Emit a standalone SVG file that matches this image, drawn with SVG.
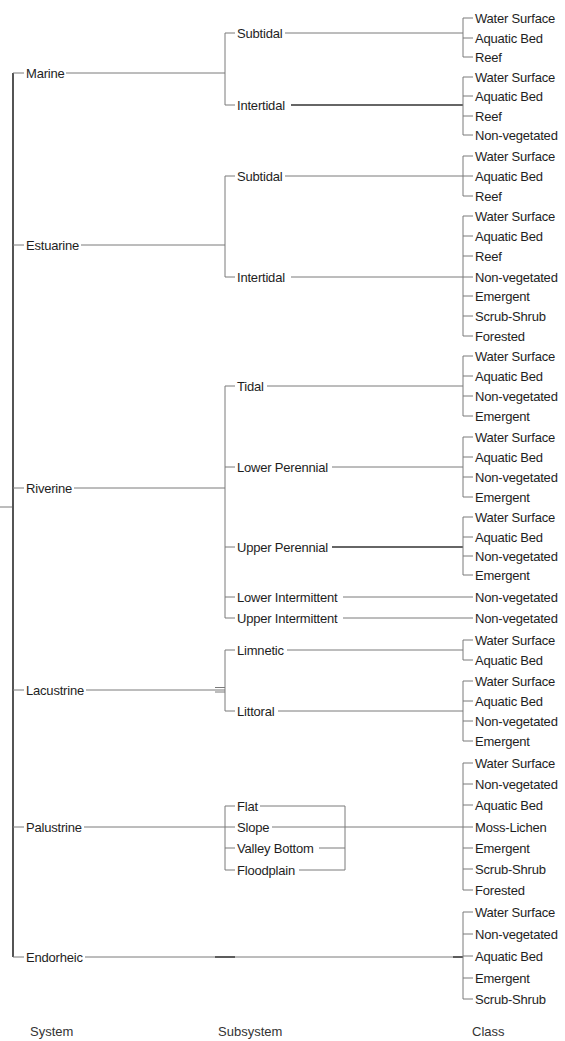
<svg xmlns="http://www.w3.org/2000/svg" width="565" height="1041" viewBox="0 0 565 1041">
<style>
text{font-family:"Liberation Sans",Arial,sans-serif;font-size:13px;fill:#1e1e1e;letter-spacing:-0.2px}
.ft{font-size:13px;fill:#333;letter-spacing:0}
.c line,.c polyline{stroke:#7a7a7a;stroke-width:1;fill:none}
.c .trunk{stroke:#2a2a2a;stroke-width:1.6}
.c .dk{stroke:#333;stroke-width:1.4}
</style>
<rect width="565" height="1041" fill="#fff"/>
<g class="c" id="connectors">
<line x1="0" y1="507" x2="12" y2="507"/>
<line class="trunk" x1="13" y1="73" x2="13" y2="957"/>
<polyline points="13,73 24,73"/><polyline points="13,245 24,245"/><polyline points="13,488 24,488"/>
<polyline points="13,690 24,690"/><polyline points="13,827 24,827"/><polyline points="13,957 24,957"/>
<line x1="66" y1="73" x2="225" y2="73"/>
<line x1="81" y1="245" x2="225" y2="245"/>
<line x1="74" y1="488" x2="225" y2="488"/>
<line x1="86" y1="690" x2="225" y2="690"/>
<line x1="215" y1="687.5" x2="225" y2="687.5"/><line x1="215" y1="692" x2="225" y2="692"/>
<line x1="84" y1="827" x2="225" y2="827"/>
<line x1="85" y1="957" x2="463" y2="957"/>
<line class="dk" x1="215" y1="957" x2="235" y2="957"/><line class="dk" x1="453" y1="957" x2="463" y2="957"/>
<polyline points="235,33 225,33 225,105 235,105"/>
<polyline points="235,176 225,176 225,277 235,277"/>
<polyline points="235,386 225,386 225,618 235,618"/>
<line x1="225" y1="467" x2="235" y2="467"/><line x1="225" y1="547" x2="235" y2="547"/><line x1="225" y1="597" x2="235" y2="597"/>
<polyline points="235,650 225,650 225,711 235,711"/>
<polyline points="235,806 225,806 225,870 235,870"/>
<line x1="225" y1="827" x2="235" y2="827"/><line x1="225" y1="848" x2="235" y2="848"/>
<line x1="285" y1="33" x2="463" y2="33"/>
<line class="dk" x1="291" y1="105" x2="463" y2="105"/>
<line x1="285" y1="176" x2="463" y2="176"/>
<line x1="291" y1="277" x2="463" y2="277"/>
<line x1="267" y1="386" x2="463" y2="386"/>
<line x1="332" y1="467" x2="463" y2="467"/>
<line class="dk" x1="332" y1="547" x2="463" y2="547"/>
<line x1="343" y1="597" x2="473" y2="597"/>
<line x1="343" y1="618" x2="473" y2="618"/>
<line x1="287" y1="650" x2="463" y2="650"/>
<line x1="278" y1="711" x2="463" y2="711"/>
<line x1="260" y1="806" x2="345" y2="806"/>
<line x1="272" y1="827" x2="463" y2="827"/>
<line x1="319" y1="848" x2="345" y2="848"/>
<line x1="299" y1="870" x2="345" y2="870"/>
<line x1="345" y1="806" x2="345" y2="870"/>
<polyline points="473,18 463,18 463,57 473,57"/><line x1="463" y1="38" x2="473" y2="38"/>
<polyline points="473,77 463,77 463,135 473,135"/><line x1="463" y1="96" x2="473" y2="96"/><line x1="463" y1="116" x2="473" y2="116"/>
<polyline points="473,156 463,156 463,196 473,196"/><line x1="463" y1="176" x2="473" y2="176"/>
<polyline points="473,216 463,216 463,336 473,336"/><line x1="463" y1="236" x2="473" y2="236"/><line x1="463" y1="256" x2="473" y2="256"/><line x1="463" y1="277" x2="473" y2="277"/><line x1="463" y1="296" x2="473" y2="296"/><line x1="463" y1="316" x2="473" y2="316"/>
<polyline points="473,356 463,356 463,416 473,416"/><line x1="463" y1="376" x2="473" y2="376"/><line x1="463" y1="396" x2="473" y2="396"/>
<polyline points="473,437 463,437 463,497 473,497"/><line x1="463" y1="457" x2="473" y2="457"/><line x1="463" y1="477" x2="473" y2="477"/>
<polyline points="473,517 463,517 463,575 473,575"/><line x1="463" y1="537" x2="473" y2="537"/><line x1="463" y1="556" x2="473" y2="556"/>
<polyline points="473,640 463,640 463,660 473,660"/>
<polyline points="473,681 463,681 463,741 473,741"/><line x1="463" y1="701" x2="473" y2="701"/><line x1="463" y1="721" x2="473" y2="721"/>
<polyline points="473,763 463,763 463,890 473,890"/><line x1="463" y1="784" x2="473" y2="784"/><line x1="463" y1="805" x2="473" y2="805"/><line x1="463" y1="827" x2="473" y2="827"/><line x1="463" y1="848" x2="473" y2="848"/><line x1="463" y1="869" x2="473" y2="869"/>
<polyline points="473,912 463,912 463,999 473,999"/><line x1="463" y1="934" x2="473" y2="934"/><line x1="463" y1="956" x2="473" y2="956"/><line x1="463" y1="978" x2="473" y2="978"/>
</g>
<g id="sys-marine"><text x="26" y="77.5">Marine</text></g>
<g id="sys-estuarine"><text x="26" y="249.5">Estuarine</text></g>
<g id="sys-riverine"><text x="26" y="492.5">Riverine</text></g>
<g id="sys-lacustrine"><text x="26" y="694.5">Lacustrine</text></g>
<g id="sys-palustrine"><text x="26" y="831.5">Palustrine</text></g>
<g id="sys-endorheic"><text x="26" y="961.5">Endorheic</text></g>
<g id="sub-m-subtidal"><text x="237" y="37.5">Subtidal</text></g>
<g id="sub-m-intertidal"><text x="237" y="109.5">Intertidal</text></g>
<g id="sub-e-subtidal"><text x="237" y="180.5">Subtidal</text></g>
<g id="sub-e-intertidal"><text x="237" y="281.5">Intertidal</text></g>
<g id="sub-r-tidal"><text x="237" y="390.5">Tidal</text></g>
<g id="sub-r-lowerper"><text x="237" y="471.5">Lower Perennial</text></g>
<g id="sub-r-upperper"><text x="237" y="551.5">Upper Perennial</text></g>
<g id="sub-r-lowerint"><text x="237" y="601.5">Lower Intermittent</text></g>
<g id="sub-r-upperint"><text x="237" y="622.5">Upper Intermittent</text></g>
<g id="sub-l-limnetic"><text x="237" y="654.5">Limnetic</text></g>
<g id="sub-l-littoral"><text x="237" y="715.5">Littoral</text></g>
<g id="sub-p-flat"><text x="237" y="810.5">Flat</text></g>
<g id="sub-p-slope"><text x="237" y="831.5">Slope</text></g>
<g id="sub-p-valley"><text x="237" y="852.5">Valley Bottom</text></g>
<g id="sub-p-flood"><text x="237" y="874.5">Floodplain</text></g>
<g id="cls-1"><text x="475" y="22.5">Water Surface</text></g>
<g id="cls-2"><text x="475" y="42.5">Aquatic Bed</text></g>
<g id="cls-3"><text x="475" y="61.5">Reef</text></g>
<g id="cls-4"><text x="475" y="81.5">Water Surface</text></g>
<g id="cls-5"><text x="475" y="100.5">Aquatic Bed</text></g>
<g id="cls-6"><text x="475" y="120.5">Reef</text></g>
<g id="cls-7"><text x="475" y="139.5">Non-vegetated</text></g>
<g id="cls-8"><text x="475" y="160.5">Water Surface</text></g>
<g id="cls-9"><text x="475" y="180.5">Aquatic Bed</text></g>
<g id="cls-10"><text x="475" y="200.5">Reef</text></g>
<g id="cls-11"><text x="475" y="220.5">Water Surface</text></g>
<g id="cls-12"><text x="475" y="240.5">Aquatic Bed</text></g>
<g id="cls-13"><text x="475" y="260.5">Reef</text></g>
<g id="cls-14"><text x="475" y="281.5">Non-vegetated</text></g>
<g id="cls-15"><text x="475" y="300.5">Emergent</text></g>
<g id="cls-16"><text x="475" y="320.5">Scrub-Shrub</text></g>
<g id="cls-17"><text x="475" y="340.5">Forested</text></g>
<g id="cls-18"><text x="475" y="360.5">Water Surface</text></g>
<g id="cls-19"><text x="475" y="380.5">Aquatic Bed</text></g>
<g id="cls-20"><text x="475" y="400.5">Non-vegetated</text></g>
<g id="cls-21"><text x="475" y="420.5">Emergent</text></g>
<g id="cls-22"><text x="475" y="441.5">Water Surface</text></g>
<g id="cls-23"><text x="475" y="461.5">Aquatic Bed</text></g>
<g id="cls-24"><text x="475" y="481.5">Non-vegetated</text></g>
<g id="cls-25"><text x="475" y="501.5">Emergent</text></g>
<g id="cls-26"><text x="475" y="521.5">Water Surface</text></g>
<g id="cls-27"><text x="475" y="541.5">Aquatic Bed</text></g>
<g id="cls-28"><text x="475" y="560.5">Non-vegetated</text></g>
<g id="cls-29"><text x="475" y="579.5">Emergent</text></g>
<g id="cls-30"><text x="475" y="601.5">Non-vegetated</text></g>
<g id="cls-31"><text x="475" y="622.5">Non-vegetated</text></g>
<g id="cls-32"><text x="475" y="644.5">Water Surface</text></g>
<g id="cls-33"><text x="475" y="664.5">Aquatic Bed</text></g>
<g id="cls-34"><text x="475" y="685.5">Water Surface</text></g>
<g id="cls-35"><text x="475" y="705.5">Aquatic Bed</text></g>
<g id="cls-36"><text x="475" y="725.5">Non-vegetated</text></g>
<g id="cls-37"><text x="475" y="745.5">Emergent</text></g>
<g id="cls-38"><text x="475" y="767.5">Water Surface</text></g>
<g id="cls-39"><text x="475" y="788.5">Non-vegetated</text></g>
<g id="cls-40"><text x="475" y="809.5">Aquatic Bed</text></g>
<g id="cls-41"><text x="475" y="831.5">Moss-Lichen</text></g>
<g id="cls-42"><text x="475" y="852.5">Emergent</text></g>
<g id="cls-43"><text x="475" y="873.5">Scrub-Shrub</text></g>
<g id="cls-44"><text x="475" y="894.5">Forested</text></g>
<g id="cls-45"><text x="475" y="916.5">Water Surface</text></g>
<g id="cls-46"><text x="475" y="938.5">Non-vegetated</text></g>
<g id="cls-47"><text x="475" y="960.5">Aquatic Bed</text></g>
<g id="cls-48"><text x="475" y="982.5">Emergent</text></g>
<g id="cls-49"><text x="475" y="1003.5">Scrub-Shrub</text></g>
<g id="footer">
<text class="ft" x="30" y="1036">System</text>
<text class="ft" x="218" y="1036">Subsystem</text>
<text class="ft" x="472" y="1036">Class</text>
</g>
</svg>
